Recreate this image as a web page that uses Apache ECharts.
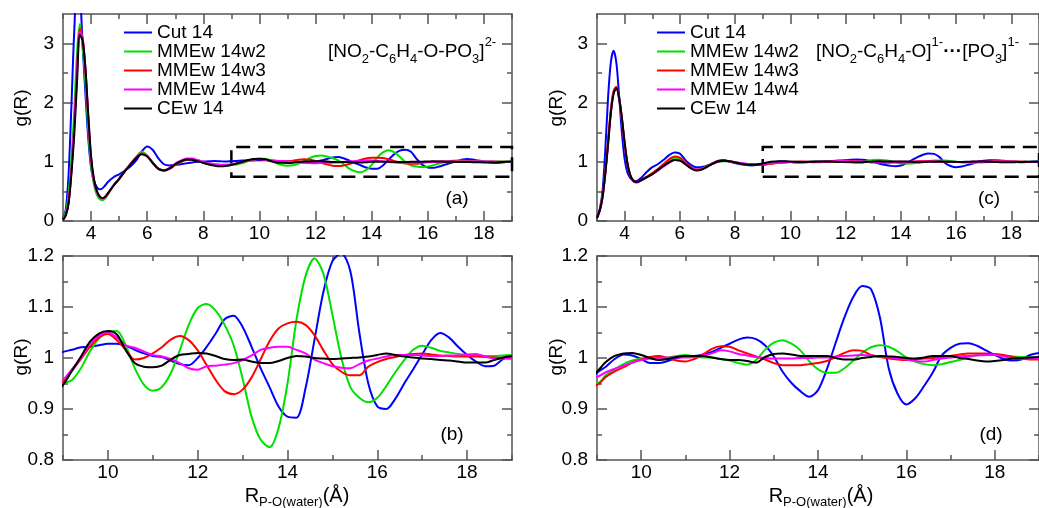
<!DOCTYPE html>
<html><head><meta charset="utf-8">
<script src="https://cdn.jsdelivr.net/npm/echarts@6/dist/echarts.min.js"></script>
<style>html,body{margin:0;padding:0;background:#fff}#chart{width:1039px;height:508px}</style>
</head><body><div id="chart"></div>
<script>
// ---------------- data ----------------
const seriesNames = ['Cut 14', 'MMEw 14w2', 'MMEw 14w3', 'MMEw 14w4', 'CEw 14'];
const seriesColors = ['#0000ff', '#00e000', '#ff0000', '#ff00ff', '#000000'];

// R (Å) sample positions
const rValues = [3.0,3.1,3.2,3.3,3.4,3.5,3.6,3.7,3.8,3.9,4.0,4.1,4.2,4.3,4.4,4.5,4.6,
  4.8,5.0,5.2,5.4,5.6,5.8,6.0,6.2,6.4,6.6,6.8,7.0,7.2,7.4,7.6,7.8,8.0,8.2,8.4,8.6,8.8,9.0,
  9.2,9.4,9.6,9.8,10.0,10.2,10.4,10.6,10.8,11.0,11.2,11.4,11.6,11.8,12.0,12.2,12.4,12.6,12.8,13.0,
  13.2,13.4,13.6,13.8,14.0,14.2,14.4,14.6,14.8,15.0,15.2,15.4,15.6,15.8,16.0,16.2,16.4,16.6,16.8,17.0,
  17.2,17.4,17.6,17.8,18.0,18.2,18.4,18.6,18.8,19.0];

// [NO2-C6H4-O-PO3]2-  (panels a, b)
const dianion_cut14 = [0.03,0.2,0.8,1.95,3.2,3.9,3.85,2.95,2.15,1.4,0.9,0.68,0.58,0.535,0.55,0.6,0.66,
  0.74,0.79,0.85,0.92,1.02,1.17,1.26,1.2,1.06,0.96,0.94,0.95,0.96,0.975,0.99,1.0,1.005,1.01,1.015,1.01,1.005,1.012,
  1.016,1.021,1.022,1.025,1.028,1.028,1.024,1.016,1.009,1.004,1.002,0.995,0.988,0.986,1.0,1.022,1.048,1.076,1.083,1.061,
  1.022,0.98,0.943,0.905,0.885,0.883,0.94,1.035,1.13,1.19,1.205,1.17,1.05,0.95,0.905,0.9,0.92,0.95,0.978,1.007,
  1.035,1.049,1.04,1.022,1.006,0.993,0.984,0.985,0.998,1.004];
const dianion_w2 = [0.03,0.15,0.45,1.05,1.85,2.85,3.33,2.95,2.35,1.55,0.95,0.62,0.45,0.37,0.35,0.38,0.45,
  0.6,0.72,0.84,0.96,1.08,1.17,1.11,0.99,0.89,0.86,0.89,0.95,1.0,1.03,1.035,1.02,0.99,0.965,0.945,0.935,0.935,0.95,
  0.957,0.98,1.013,1.038,1.052,1.053,1.024,0.98,0.948,0.936,0.943,0.97,1.015,1.065,1.098,1.106,1.093,1.065,1.025,0.96,
  0.885,0.84,0.825,0.862,0.95,1.075,1.16,1.195,1.165,1.085,1.0,0.943,0.922,0.913,0.922,0.945,0.972,0.996,1.016,1.024,
  1.02,1.014,1.011,1.008,1.006,1.005,1.004,1.004,1.005,1.006];
const dianion_w3 = [0.02,0.1,0.32,0.85,1.6,2.55,3.25,3.1,2.55,1.75,1.05,0.68,0.5,0.41,0.38,0.4,0.46,
  0.6,0.71,0.84,0.96,1.07,1.14,1.1,0.98,0.88,0.85,0.88,0.95,1.0,1.035,1.04,1.02,0.99,0.965,0.95,0.945,0.945,0.954,
  0.975,0.998,1.022,1.04,1.047,1.035,1.016,0.997,1.0,1.009,1.021,1.036,1.043,1.035,1.015,0.986,0.957,0.935,0.929,0.938,
  0.962,0.997,1.033,1.058,1.068,1.071,1.065,1.045,1.015,0.988,0.973,0.966,0.966,0.983,0.992,0.998,1.002,1.006,1.008,1.009,
  1.007,1.005,1.004,1.003,1.003,1.003,1.002,1.001,1.0,0.999];
const dianion_w4 = [0.02,0.1,0.32,0.85,1.6,2.5,3.2,3.08,2.55,1.75,1.05,0.68,0.5,0.41,0.38,0.4,0.46,
  0.6,0.71,0.84,0.96,1.07,1.14,1.1,0.98,0.88,0.86,0.9,0.97,1.02,1.055,1.055,1.03,1.0,0.975,0.96,0.95,0.95,0.957,
  0.978,1.0,1.028,1.044,1.05,1.04,1.025,1.02,1.013,1.006,1.003,0.998,0.99,0.98,0.977,0.984,0.985,0.987,0.99,0.996,
  1.005,1.016,1.02,1.022,1.022,1.016,1.009,0.997,0.99,0.984,0.981,0.98,0.988,0.995,0.999,1.003,1.006,1.006,1.006,1.005,
  1.004,1.004,1.005,1.005,1.007,1.008,1.003,0.999,0.999,0.999];
const dianion_ce = [0.02,0.1,0.3,0.8,1.45,2.35,3.15,3.05,2.58,1.8,1.1,0.72,0.52,0.42,0.385,0.41,0.47,
  0.6,0.71,0.84,0.95,1.06,1.13,1.09,0.98,0.88,0.855,0.89,0.96,1.01,1.04,1.035,1.01,0.98,0.955,0.935,0.925,0.93,0.947,
  0.975,1.003,1.032,1.048,1.053,1.046,1.015,0.99,0.983,0.982,0.985,0.997,1.006,1.008,1.01,1.009,1.004,0.998,0.996,0.997,
  0.993,0.99,0.99,0.994,1.0,1.004,1.003,1.0,0.999,0.998,0.999,1.0,1.001,1.003,1.006,1.009,1.006,1.003,1.001,0.999,
  0.998,0.996,0.995,0.993,0.991,0.991,0.991,0.996,1.001,1.004];

// [NO2-C6H4-O]1- ... [PO3]1-  (panels c, d)
const pair_cut14 = [0.07,0.2,0.5,1.2,2.08,2.68,2.88,2.68,2.12,1.5,1.05,0.82,0.73,0.69,0.67,0.69,0.73,
  0.83,0.91,0.96,1.03,1.11,1.16,1.14,1.03,0.95,0.91,0.915,0.94,0.98,1.02,1.03,1.0,0.98,0.96,0.945,0.94,0.95,0.971,
  0.983,0.998,1.007,1.005,0.998,0.99,0.99,0.994,1.0,1.003,1.004,1.007,1.012,1.02,1.028,1.036,1.04,1.037,1.025,1.003,
  0.973,0.951,0.935,0.924,0.937,0.978,1.03,1.08,1.12,1.141,1.135,1.08,0.98,0.93,0.909,0.921,0.945,0.972,1.005,1.02,
  1.028,1.029,1.024,1.015,1.006,0.998,0.995,0.997,1.006,1.01];
const pair_w2 = [0.05,0.18,0.42,0.82,1.33,1.86,2.18,2.25,2.08,1.73,1.31,0.97,0.78,0.69,0.66,0.665,0.685,
  0.735,0.8,0.87,0.95,1.02,1.07,1.05,0.98,0.91,0.87,0.88,0.93,0.97,1.0,1.01,1.005,0.99,0.975,0.965,0.955,0.95,0.95,
  0.966,0.978,0.988,0.995,0.999,1.001,0.999,1.001,1.004,1.006,1.003,1.001,1.001,0.998,0.995,0.99,0.987,0.996,1.016,1.03,
  1.035,1.028,1.015,0.994,0.978,0.971,0.971,0.98,0.995,1.01,1.021,1.025,1.022,1.013,1.001,0.993,0.988,0.986,0.988,0.992,
  0.996,1.002,1.006,1.008,1.007,1.004,1.003,1.002,1.001,1.0];
const pair_w3 = [0.05,0.18,0.42,0.83,1.35,1.88,2.2,2.27,2.08,1.72,1.3,0.96,0.77,0.68,0.65,0.66,0.69,
  0.75,0.81,0.88,0.96,1.04,1.09,1.07,0.99,0.91,0.87,0.88,0.93,0.98,1.015,1.025,1.01,0.99,0.97,0.955,0.948,0.945,0.947,
  0.963,0.974,0.982,0.991,0.997,1.002,1.004,1.0,0.995,0.993,0.998,1.007,1.018,1.023,1.022,1.015,1.009,1.003,0.997,0.99,
  0.986,0.986,0.986,0.988,0.99,0.994,1.002,1.01,1.015,1.014,1.006,1.002,0.999,0.997,0.996,0.997,0.999,1.0,1.001,1.004,
  1.007,1.009,1.009,1.009,1.008,1.006,1.002,0.999,0.997,0.997];
const pair_w4 = [0.05,0.17,0.4,0.8,1.3,1.83,2.16,2.24,2.07,1.73,1.31,0.97,0.78,0.69,0.66,0.665,0.685,
  0.74,0.79,0.85,0.92,0.98,1.03,1.02,0.96,0.9,0.87,0.88,0.92,0.97,1.005,1.02,1.01,0.995,0.98,0.97,0.965,0.962,0.963,
  0.972,0.979,0.985,0.991,0.996,0.999,1.0,1.001,1.001,1.001,1.002,1.005,1.009,1.015,1.013,1.008,1.005,1.002,1.0,0.999,
  0.999,0.999,1.0,1.0,1.001,1.001,1.003,1.004,1.005,1.006,1.005,1.003,1.001,0.999,0.997,0.994,0.993,0.996,0.999,1.001,
  1.003,1.004,1.005,1.006,1.006,1.003,1.0,0.999,0.999,0.999];
const pair_ce = [0.05,0.18,0.4,0.8,1.29,1.82,2.15,2.25,2.08,1.75,1.33,0.98,0.78,0.69,0.66,0.665,0.69,
  0.74,0.79,0.86,0.93,0.99,1.03,1.02,0.96,0.89,0.855,0.87,0.92,0.97,1.01,1.02,1.01,0.99,0.97,0.955,0.95,0.955,0.973,
  0.992,1.004,1.009,1.01,1.006,1.0,0.996,0.998,1.002,1.004,1.004,1.004,1.001,0.998,0.996,0.996,0.994,0.991,1.002,1.008,
  1.009,1.007,1.004,1.004,1.004,1.004,1.0,0.997,0.997,1.0,1.002,1.004,1.003,1.002,1.0,0.999,1.001,1.004,1.004,1.004,
  1.0,0.998,0.995,0.993,0.994,0.996,0.999,1.0,1.001,1.002];

// axis ticks / labels
const xMajorTicks = [4,6,8,10,12,14,16,18];
const xMinorTicks = [3,5,7,9,11,13,15,17,19];
const yMajorFull = [0,1,2,3];
const yMinorFull = [0.5,1.5,2.5];
const yMajorZoom = [0.8,0.9,1.0,1.1,1.2];
const yMinorZoom = [0.85,0.95,1.05,1.15];
const fullRangeX = [3, 19];
const zoomRangeX = [9, 19];
const fullRangeY = [0, 3.5];
const zoomRangeY = [0.8, 1.2];
const zoomBoxX = [9, 19];
const zoomBoxY = [0.75, 1.25];
const panelLetters = ['(a)', '(b)', '(c)', '(d)'];

// ---------------- chart ----------------
const FONT = "'Liberation Sans', Arial, Helvetica, sans-serif";
const FRAME = '#555555';
const leftSets = [dianion_cut14, dianion_w2, dianion_w3, dianion_w4, dianion_ce];
const rightSets = [pair_cut14, pair_w2, pair_w3, pair_w4, pair_ce];

const panels = [
  {grid: {left: 63, top: 14, width: 449, height: 207}, xr: fullRangeX, yr: fullRangeY, yMaj: yMajorFull, yMin: yMinorFull, sets: leftSets, box: true, xm: 3, ym: 9},
  {grid: {left: 63, top: 256, width: 449, height: 204}, xr: zoomRangeX, yr: zoomRangeY, yMaj: yMajorZoom, yMin: yMinorZoom, sets: leftSets, box: false, xm: 3, ym: 9},
  {grid: {left: 597, top: 14, width: 450.5, height: 207}, xr: fullRangeX, yr: fullRangeY, yMaj: yMajorFull, yMin: yMinorFull, sets: rightSets, box: true, xm: 3, ym: 9},
  {grid: {left: 597, top: 256, width: 449, height: 204}, xr: zoomRangeX, yr: zoomRangeY, yMaj: yMajorZoom, yMin: yMinorZoom, sets: rightSets, box: false, xm: 3, ym: 9}
];

function inRange(arr, r) { return arr.filter(v => v >= r[0] - 1e-9 && v <= r[1] + 1e-9); }

function tickAxis(g, pos, range, ticks, len, showLine, showLabels, margin) {
  return {
    type: 'value', gridIndex: g, position: pos, min: range[0], max: range[1], silent: true,
    splitLine: {show: false}, minorTick: {show: false},
    axisLine: {show: showLine, onZero: false, lineStyle: {color: FRAME, width: 1.5}},
    axisTick: {show: true, inside: true, length: len, customValues: ticks, lineStyle: {color: FRAME, width: 1.5}},
    axisLabel: showLabels ? {show: true, customValues: ticks, margin: margin, fontSize: 19, fontFamily: FONT, color: '#000'} : {show: false}
  };
}

const grid = [], xAxis = [], yAxis = [], series = [];
panels.forEach((p, g) => {
  grid.push(Object.assign({containLabel: false}, p.grid));
  const xMaj = inRange(xMajorTicks, p.xr), xMin = inRange(xMinorTicks, p.xr);
  xAxis.push(tickAxis(g, 'bottom', p.xr, xMaj, 10, true, true, p.xm));
  xAxis.push(tickAxis(g, 'bottom', p.xr, xMin, 5, false, false, 0));
  xAxis.push(tickAxis(g, 'top', p.xr, xMaj, 10, true, false, 0));
  xAxis.push(tickAxis(g, 'top', p.xr, xMin, 5, false, false, 0));
  yAxis.push(tickAxis(g, 'left', p.yr, p.yMaj, 10, true, true, p.ym));
  yAxis.push(tickAxis(g, 'left', p.yr, p.yMin, 5, false, false, 0));
  yAxis.push(tickAxis(g, 'right', p.yr, p.yMaj, 10, true, false, 0));
  yAxis.push(tickAxis(g, 'right', p.yr, p.yMin, 5, false, false, 0));
  p.sets.forEach((vals, k) => {
    const data = [];
    rValues.forEach((r, i) => { if (r >= p.xr[0] - 0.25) data.push([r, vals[i]]); });
    const s = {
      type: 'line', name: seriesNames[k], xAxisIndex: 4 * g, yAxisIndex: 4 * g,
      data: data, symbol: 'none', showSymbol: false, smooth: 0.3, clip: true,
      lineStyle: {color: seriesColors[k], width: 2}, itemStyle: {color: seriesColors[k]},
      emphasis: {disabled: true}, animation: false, z: 2 + k
    };
    if (p.box && k === p.sets.length - 1) {
      s.markArea = {
        silent: true, label: {show: false},
        itemStyle: {color: 'rgba(0,0,0,0)', borderColor: '#000', borderWidth: 2.5, borderType: [14, 8]},
        data: [[{xAxis: zoomBoxX[0], yAxis: zoomBoxY[0]}, {xAxis: zoomBoxX[1], yAxis: zoomBoxY[1]}]]
      };
    }
    series.push(s);
  });
});

function legendAt(left) {
  return {
    data: seriesNames, orient: 'vertical', left: left, top: 23, padding: 0,
    icon: 'rect', itemWidth: 28, itemHeight: 2, itemGap: 0, selectedMode: false,
    textStyle: {fontSize: 19, fontFamily: FONT, color: '#000', lineHeight: 19}
  };
}

const txt = {fontFamily: FONT, fill: '#000'};
function richStyles(base) {
  return {
    n: {fontSize: base, fontFamily: FONT, color: '#000'},
    s: {fontSize: Math.round(base * 0.68), fontFamily: FONT, color: '#000', padding: [14, 0, 0, 0]},
    p: {fontSize: Math.round(base * 0.68), fontFamily: FONT, color: '#000', padding: [0, 0, 20, 0]},
    d: {fontSize: base, fontFamily: FONT, fontWeight: 'bold', color: '#000'}
  };
}
function gText(x, y, text, size, rot, align) {
  return {type: 'text', x: x, y: y, rotation: rot || 0, silent: true,
    style: Object.assign({text: text, fontSize: size, align: align || 'center', verticalAlign: 'middle'}, txt)};
}
function xTitle(cx) {
  return {type: 'text', x: cx, y: 496, silent: true,
    style: Object.assign({text: '{r|R}{s|P-O(water)}{r|(Å)}', align: 'center', verticalAlign: 'middle',
      rich: {r: {fontSize: 20, fontFamily: FONT, color: '#000'},
             s: {fontSize: 13, fontFamily: FONT, color: '#000', padding: [12, 0, 0, 0]}}}, txt)};
}

const graphic = [
  gText(21.5, 108, 'g(R)', 19, Math.PI / 2),
  gText(21.5, 357, 'g(R)', 19, Math.PI / 2),
  gText(557, 108, 'g(R)', 19, Math.PI / 2),
  gText(557, 357, 'g(R)', 19, Math.PI / 2),
  xTitle(297), xTitle(821),
  gText(457, 199, panelLetters[0], 19),
  gText(452, 435, panelLetters[1], 19),
  gText(989, 199, panelLetters[2], 19),
  gText(991, 435, panelLetters[3], 19),
  {type: 'text', x: 328, y: 52, silent: true, style: Object.assign({
    text: '{n|[NO}{s|2}{n|-C}{s|6}{n|H}{s|4}{n|-O-PO}{s|3}{n|]}{p|2-}',
    align: 'left', verticalAlign: 'middle', rich: richStyles(19)}, txt)},
  {type: 'text', x: 816, y: 52, silent: true, style: Object.assign({
    text: '{n|[NO}{s|2}{n|-C}{s|6}{n|H}{s|4}{n|-O]}{p|1-}{d|···}{n|[PO}{s|3}{n|]}{p|1-}',
    align: 'left', verticalAlign: 'middle', rich: richStyles(19)}, txt)}
];

const chart = echarts.init(document.getElementById('chart'), null, {renderer: 'canvas'});
chart.setOption({
  animation: false,
  backgroundColor: '#ffffff',
  grid: grid, xAxis: xAxis, yAxis: yAxis, series: series,
  legend: [legendAt(124), legendAt(657)],
  graphic: graphic
});
</script>
</body></html>
